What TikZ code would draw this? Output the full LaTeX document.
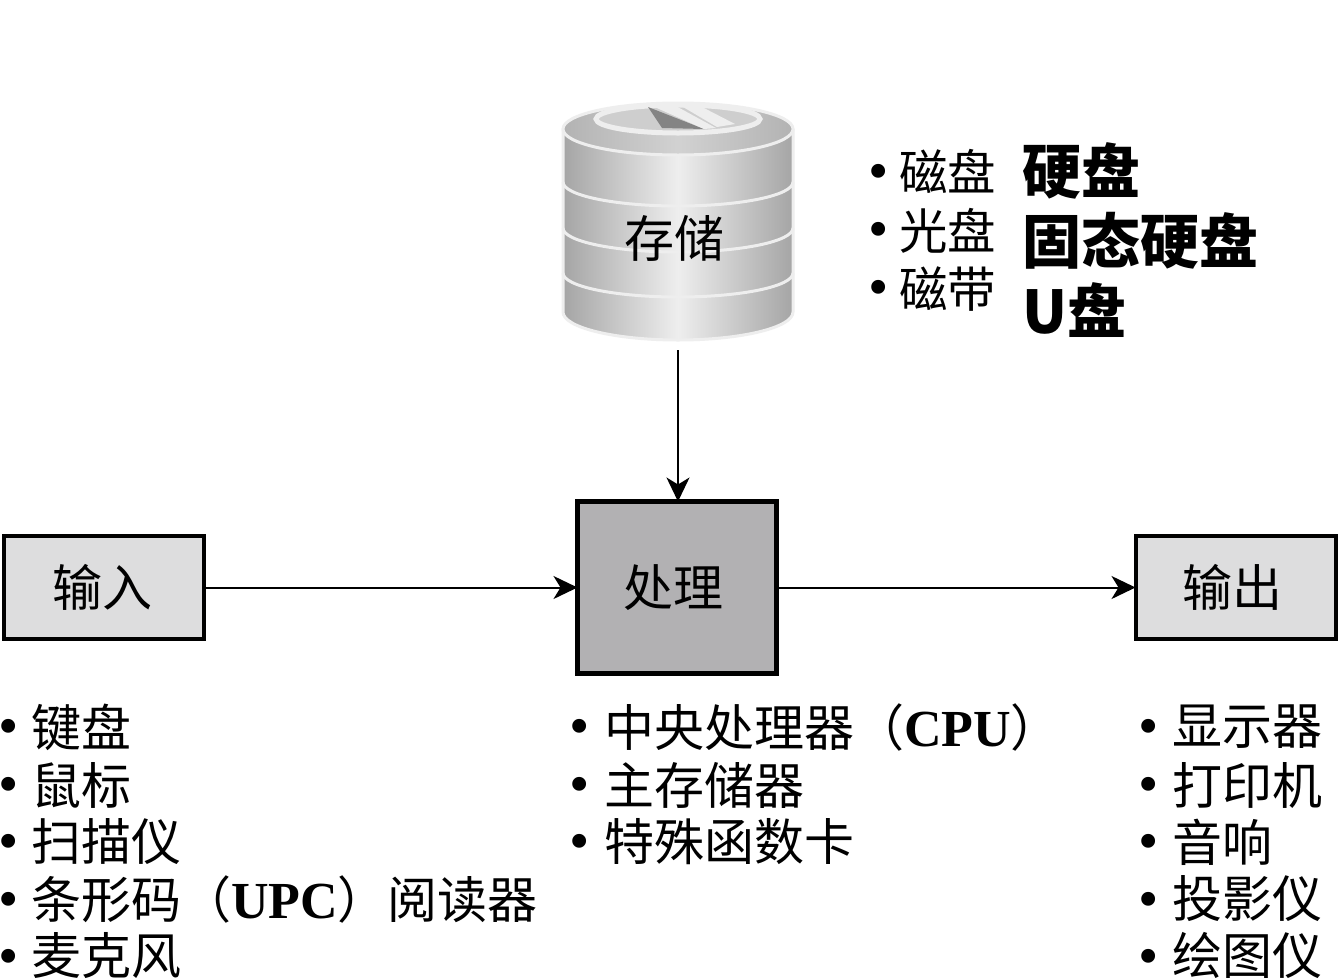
\documentclass[tikz,border=0pt]{standalone}
\usepackage{fontspec}
\setmainfont{Noto Sans CJK SC}
\newfontfamily\latinserif{Liberation Serif}
\definecolor{boxlight}{RGB}{221,221,222}
\definecolor{boxdark}{RGB}{178,177,179}
\definecolor{cyla}{RGB}{165,165,165}
\definecolor{cylb}{RGB}{238,238,238}
\definecolor{cylc}{RGB}{190,190,190}
\definecolor{cylrim}{RGB}{238,238,238}
\newcommand{\bul}{{\fontsize{58}{58}\selectfont\latinserif •}}
\newcommand{\lat}[1]{{\fontsize{52}{52}\selectfont\latinserif\bfseries #1}}
\tikzset{
  x=1pt,y=-1pt,
  every node/.style={inner sep=0pt,outer sep=0pt,text=black},
  iobox/.style={draw=black,line width=4pt,fill=boxlight,minimum width=200pt,minimum height=103pt,font=\fontsize{50}{50}\selectfont},
  procbox/.style={draw=black,line width=5pt,fill=boxdark,minimum width=199pt,minimum height=172pt,font=\fontsize{50}{50}\selectfont},
  listitem/.style={anchor=west,font=\fontsize{50}{50}\selectfont},
  sideitem/.style={anchor=west,font=\fontsize{48.5}{48.5}\selectfont},
  bigitem/.style={anchor=west,font=\fontsize{59}{59}\selectfont\bfseries},
  dot/.style={anchor=center,yshift=-5pt},
  flow/.style={draw=black,line width=2pt,-{Stealth[length=24pt,width=23pt,inset=7pt]}},
  rim/.style={draw=cylrim,line width=3pt},
}
\usetikzlibrary{arrows.meta}
\begin{document}
\begin{tikzpicture}
\useasboundingbox (0,0) rectangle (1340,978);
\fill[white] (0,0) rectangle (1340,978);
% storage cylinder
\path[left color=cyla,right color=cyla,middle color=cylb,draw=cylrim,line width=3pt]
  (563,130) -- (563,312) arc[start angle=180,end angle=0,x radius=115,y radius=28] -- (793,130) -- cycle;
\draw[rim] (563,182) arc[start angle=180,end angle=0,x radius=115,y radius=24];
\draw[rim] (563,228) arc[start angle=180,end angle=0,x radius=115,y radius=24];
\draw[rim] (563,273) arc[start angle=180,end angle=0,x radius=115,y radius=24];
\path[left color=cyla!85!white,right color=cyla!85!white,middle color=cylc!70!white,draw=cylrim,line width=3pt] (678,129) ellipse[x radius=115,y radius=26];
\path[fill=cylc!75!white,draw=cylrim,line width=5pt] (678,119) ellipse[x radius=82,y radius=14];
\fill[cyla!80!black] (648,107) -- (662,128) -- (704,129) -- cycle;
\fill[cylb] (683,107) -- (702,107) -- (735,124) -- (717,127) -- cycle;
\fill[cylb] (650,105) -- (674,105) -- (716,128) -- (704,129) -- cycle;
\node[font=\fontsize{50}{50}\selectfont] (store) at (674,238) {存储};
\coordinate (storebottom) at (678,350);
% boxes
\node[iobox] (input) at (104,587.5) {输入\kern4pt};
\node[procbox] (proc) at (677,587.5) {处理\kern8pt};
\node[iobox] (output) at (1235.5,587.5) {输出\kern6pt};
\draw[flow] (storebottom) -- (proc.north-|storebottom);
\draw[flow] (input.east) -- (proc.west);
\draw[flow] (proc.east) -- (output.west);
% storage lists
\node[dot] (d1) at (879,172) {\bul};
\node[dot] (d2) at (879,230) {\bul};
\node[dot] (d3) at (879,288) {\bul};
\node[sideitem] (s1) at (899,171) {磁盘};
\node[sideitem] (s2) at (899,231) {光盘};
\node[sideitem] (s3) at (899,289) {磁带};
\node[bigitem] (b1) at (1022,171) {硬盘};
\node[bigitem] (b2) at (1022,241) {固态硬盘};
\node[bigitem] (b3) at (1022,310) {U盘};
% input list
\node[dot] (i1d) at (9,727) {\bul};
\node[dot] (i2d) at (9,785) {\bul};
\node[dot] (i3d) at (9,842) {\bul};
\node[dot] (i4d) at (9,900) {\bul};
\node[dot] (i5d) at (9,957) {\bul};
\node[listitem] (i1) at (31,727) {键盘};
\node[listitem] (i2) at (31,785) {鼠标};
\node[listitem] (i3) at (31,842) {扫描仪};
\node[listitem] (i4) at (31,899) {条形码（\lat{UPC}）阅读器};
\node[listitem] (i5) at (31,955.5) {麦克风};
% processing list
\node[dot] (p1d) at (580,727) {\bul};
\node[dot] (p2d) at (580,785) {\bul};
\node[dot] (p3d) at (580,842) {\bul};
\node[listitem] (p1) at (604,727) {中央处理器（\lat{CPU}）};
\node[listitem] (p2) at (604,785) {主存储器};
\node[listitem] (p3) at (604,842) {特殊函数卡};
% output list
\node[dot] (o1d) at (1149,727) {\bul};
\node[dot] (o2d) at (1149,785) {\bul};
\node[dot] (o3d) at (1149,842) {\bul};
\node[dot] (o4d) at (1149,900) {\bul};
\node[dot] (o5d) at (1149,957) {\bul};
\node[listitem] (o1) at (1172,727) {显示器};
\node[listitem] (o2) at (1172,785) {打印机};
\node[listitem] (o3) at (1172,842) {音响};
\node[listitem] (o4) at (1172,899) {投影仪};
\node[listitem] (o5) at (1172,955.5) {绘图仪};
\end{tikzpicture}
\end{document}
